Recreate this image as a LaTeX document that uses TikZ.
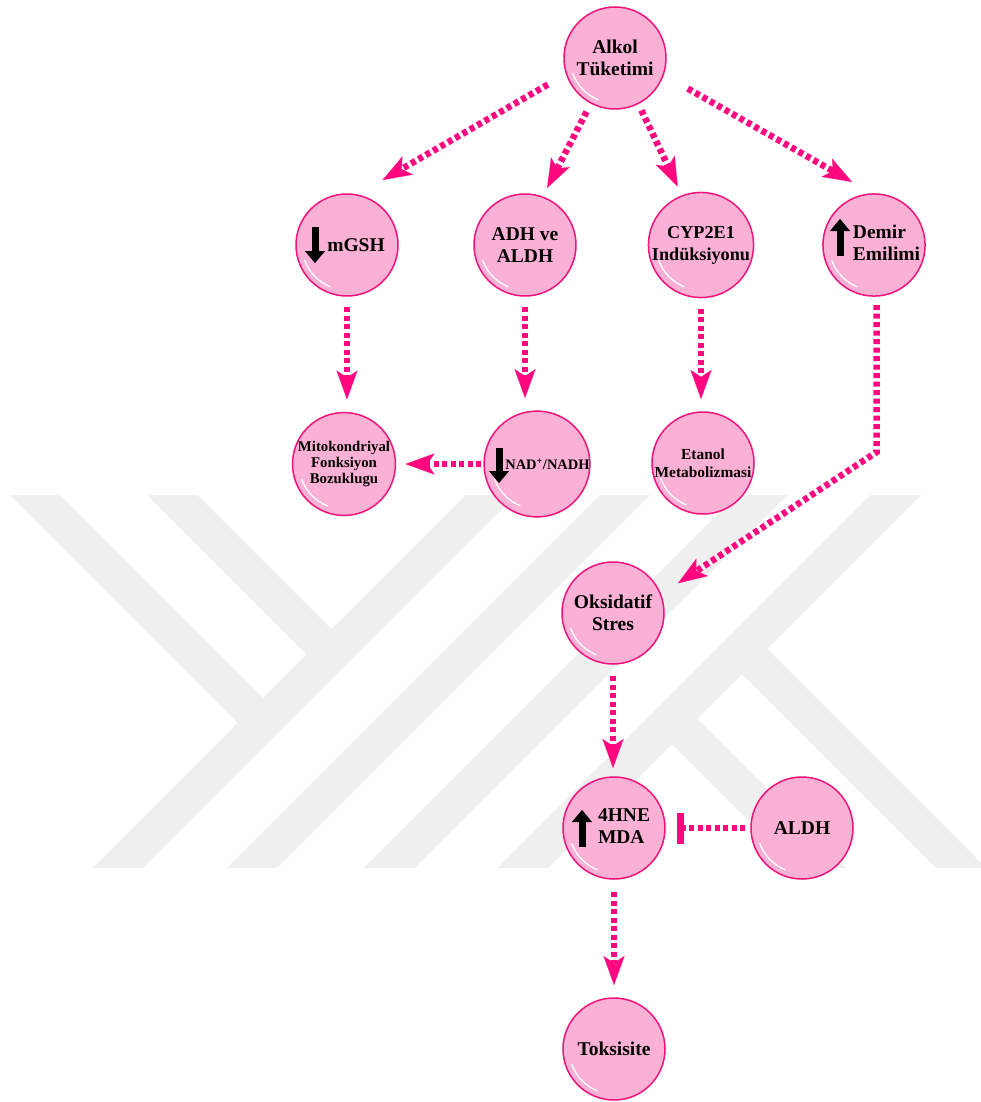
\documentclass[tikz,border=0pt]{standalone}
\usepackage{fontspec}
\setmainfont{Liberation Serif}
\usetikzlibrary{arrows.meta}
\definecolor{nodefill}{RGB}{251,176,214}
\definecolor{nodeline}{RGB}{238,20,122}
\definecolor{arrowc}{RGB}{255,8,127}
\definecolor{wm}{RGB}{239,239,239}
\begin{document}
\begin{tikzpicture}[x=1pt,y=-1pt,
  bub/.style={circle, minimum size=102pt, inner sep=0pt, outer sep=0pt,
    draw=nodeline, line width=1.5pt, fill=nodefill, text=black,
    font=\bfseries\fontsize{19.5}{22}\selectfont,
    path picture={\draw[white,line width=1.3pt,line cap=round]
      (path picture bounding box.center) ++(200:45pt)
      arc[start angle=200,end angle=248,radius=45pt];}},
  bubc/.style={bub, align=center},
  con/.style={draw=arrowc, line width=6.5pt, dash pattern=on 5pt off 3.5pt,
    -{Stealth[length=29pt 0 0,width=21pt 0 0,inset=7pt 0 0,line width=0.1pt,fill=arrowc]}},
  inh/.style={draw=arrowc, line width=6.5pt, dash pattern=on 5pt off 3.5pt,
    -{Bar[width=31pt 0 0]}},
  fat/.style={draw=black, line width=7pt,
    -{Triangle[length=12pt 0 0,width=20pt 0 0,line width=0.3pt]}}
]
\useasboundingbox (0,0) rectangle (981,1102);
\fill[white] (0,0) rectangle (981,1102);
% watermark
\begin{scope}
  \clip (0,495) rectangle (981,867);
  \begin{scope}[draw=wm, line width=35.4pt]
    \draw (-100,1086) -- (600,386);
    \draw (-100,1220) -- (700,420);
    \draw (0,1257) -- (900,357);
    \draw (100,1291) -- (1000,391);
    \draw (-15,445) -- (263,723);
    \draw (122,445) -- (331.5,654.5);
    \draw (742,649) -- (1050,957);
    \draw (672,719) -- (1000,1047);
  \end{scope}
\end{scope}
% nodes
\node[bubc] (alkol) at (615,58) {Alkol\\Tüketimi};
\node[bub] (mgsh) at (347,245) {\hspace*{18pt}mGSH};
\node[bubc] (adh) at (525,245) {ADH ve\\ALDH};
\node[bubc, font=\bfseries\fontsize{18.2}{22}\selectfont] (cyp) at (701,245) {CYP2E1\\Indüksiyonu};
\node[bub] (demir) at (874,245) {\hspace*{25pt}\begin{tabular}{@{}l@{}}Demir\\Emilimi\end{tabular}};
\node[bubc, font=\bfseries\fontsize{14.8}{16.3}\selectfont] (mito) at (344,464) {Mitokondriyal\\Fonksiyon\\Bozuklugu};
\node[bub, font=\bfseries\fontsize{14.5}{16}\selectfont] (nad) at (537,464) {\hspace*{21pt}NAD\textsuperscript{+}/NADH};
\node[bubc, font=\bfseries\fontsize{15.4}{18}\selectfont] (etanol) at (703,463) {Etanol\\Metabolizmasi};
\node[bubc] (oks) at (613,613) {Oksidatif\\Stres};
\node[bub] (hne) at (614,828) {\hspace*{20pt}\begin{tabular}{@{}l@{}}4HNE\\MDA\end{tabular}};
\node[bub] (aldh) at (802,828) {ALDH};
\node[bub] (toks) at (614,1049) {Toksisite};
% fat arrows inside nodes
\draw[fat] ([shift={(-32,-18)}]mgsh.center) -- ++(0,36);
\draw[fat] ([shift={(-34,11)}]demir.center) -- ++(0,-37);
\draw[fat] ([shift={(-38,-16)}]nad.center) -- ++(0,35);
\draw[fat] ([shift={(-32,19)}]hne.center) -- ++(0,-37);
% connectors
\draw[con, shorten <=21.5pt, shorten >=29.8pt] (alkol.198.6) -- (mgsh.79.7);
\draw[con, shorten <=9.8pt, shorten >=10.2pt] (alkol.242.7) -- (adh.70.3);
\draw[con, shorten <=7.6pt, shorten >=10.5pt] (alkol.297.8) -- (cyp.111.4);
\draw[con, shorten <=28.3pt, shorten >=24.2pt] (alkol.341.8) -- (demir.91.1);
\draw[con, shorten <=11pt, shorten >=13pt] (mgsh.south) -- (mgsh.south |- mito.north);
\draw[con, shorten <=11pt, shorten >=13pt] (adh.south) -- (adh.south |- nad.north);
\draw[con, shorten <=11pt, shorten >=13pt] (cyp.south) -- (cyp.south |- etanol.north);
\draw[con, shorten <=3pt, shorten >=10pt] (nad.west) -- (mito.east);
\draw[con, shorten <=9pt, shorten >=20.9pt] (demir.-87) -- ++(0,156) -- (oks.21.3);
\draw[con, shorten <=12pt, shorten >=9pt] (oks.south) -- (oks.south |- hne.north);
\draw[inh, shorten <=6pt, shorten >=12pt] (aldh.west) -- (hne.east);
\draw[con, shorten <=13pt, shorten >=13pt] (hne.south) -- (toks.north);
\end{tikzpicture}
\end{document}
